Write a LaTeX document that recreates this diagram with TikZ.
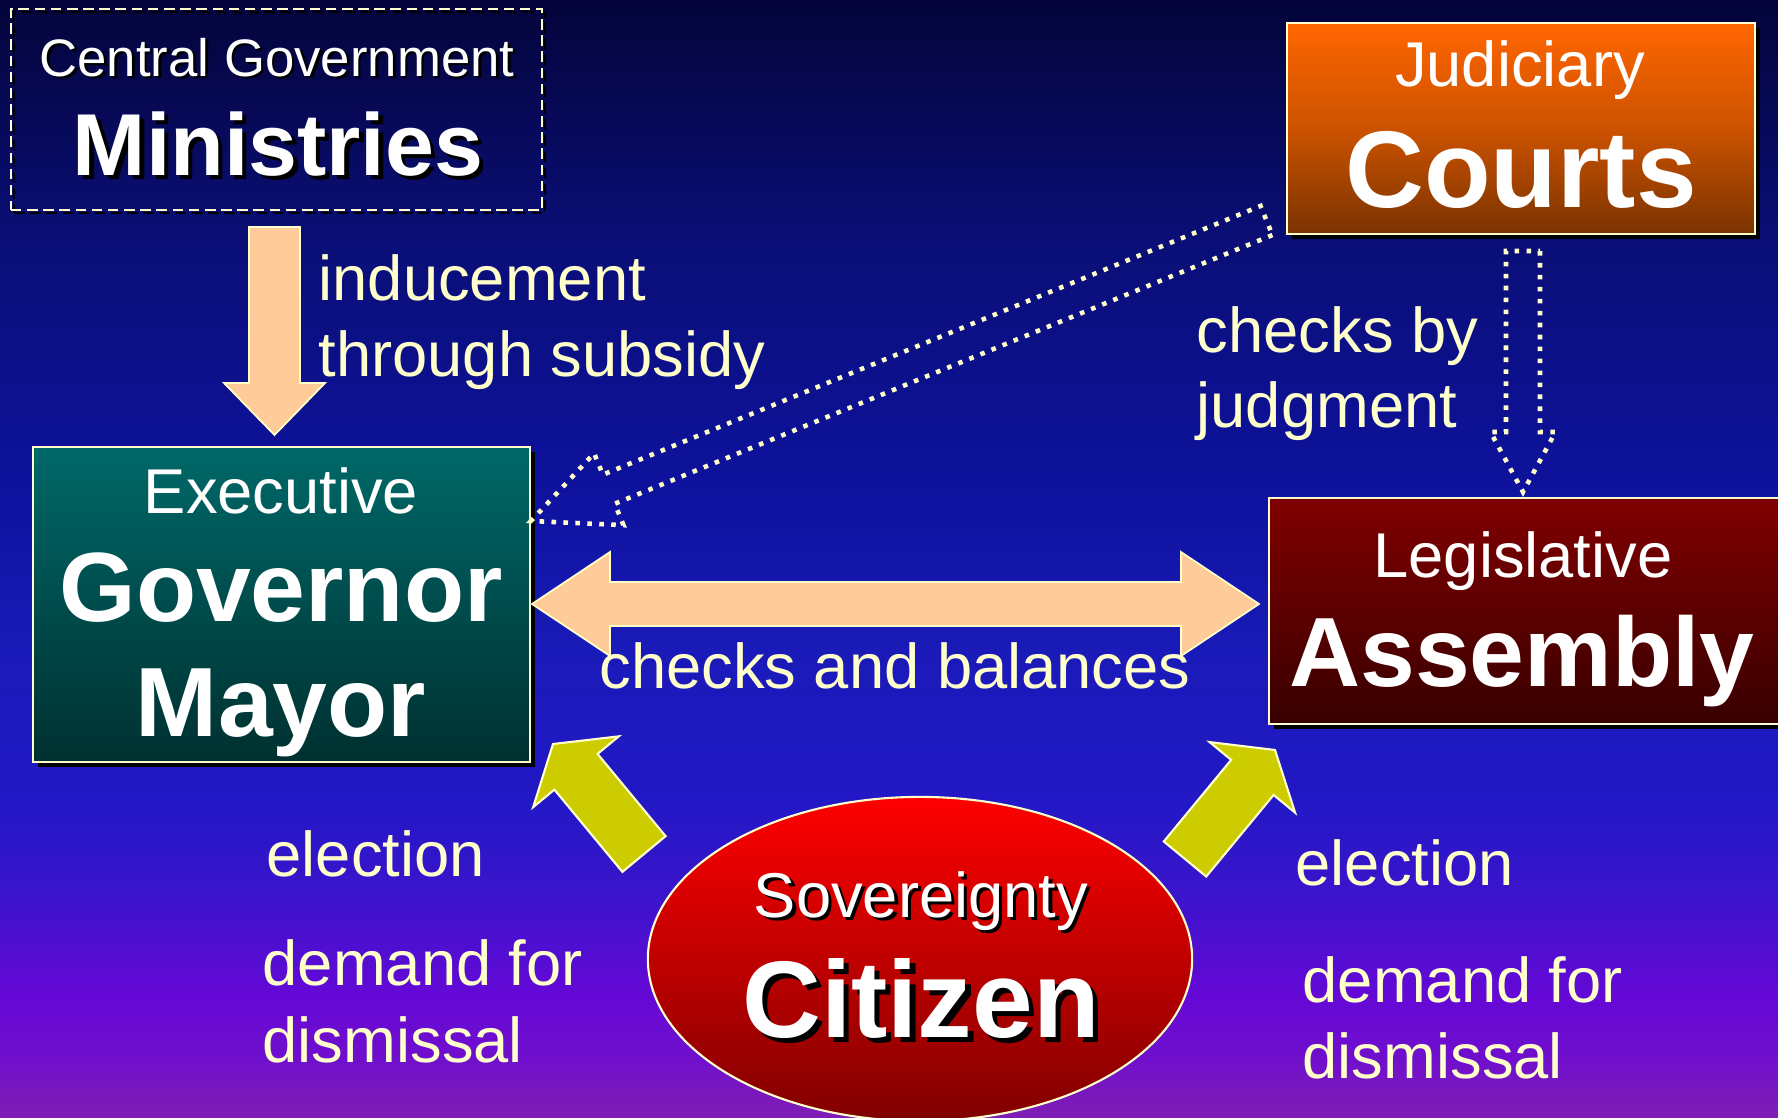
\documentclass[tikz,border=0pt]{standalone}
\usepackage{fontspec}
\setmainfont{Liberation Sans}
\usetikzlibrary{calc,shadows,shapes.geometric}

\definecolor{cream}{HTML}{FFFFCC}
\definecolor{peach}{HTML}{FFCC99}
\definecolor{voteyellow}{HTML}{CCCC00}
\definecolor{bg0}{HTML}{7E1EB4}
\definecolor{bg1}{HTML}{7A18BC}
\definecolor{bg2}{HTML}{7010CC}
\definecolor{bg3}{HTML}{6608D6}
\definecolor{bg4}{HTML}{3C14CC}
\definecolor{bg5}{HTML}{2218C6}
\definecolor{bg6}{HTML}{1A1AB8}
\definecolor{bg7}{HTML}{0E129C}
\definecolor{bg8}{HTML}{0A0E74}
\definecolor{bg9}{HTML}{04043A}

\pgfdeclareverticalshading{slidebg}{100bp}{color(0bp)=(bg0); color(25bp)=(bg0);
  color(26bp)=(bg1); color(27.6bp)=(bg2); color(30.3bp)=(bg3); color(34.8bp)=(bg4);
  color(39.2bp)=(bg5); color(45.9bp)=(bg6); color(53.5bp)=(bg7); color(64.7bp)=(bg8);
  color(75bp)=(bg9); color(100bp)=(bg9)}

% text with a black shadow behind it
\newcommand{\shadowed}[1]{\rlap{\kern0.05em\raisebox{-0.05em}{\color{black}#1}}#1}

% block arrow: [style]{tail}{tip}{half shaft}{half head}{head length}
\newcommand{\blockarrow}[6][]{%
  \coordinate (hb) at ($(#3)!#6!(#2)$);
  \draw[#1] ($(#2)!#4!90:(#3)$) -- ($(hb)!#4!90:(#3)$) -- ($(hb)!#5!90:(#3)$) -- (#3)
    -- ($(hb)!#5!-90:(#3)$) -- ($(hb)!#4!-90:(#3)$) -- ($(#2)!#4!-90:(#3)$) -- cycle;}

% block arrow with a head at both ends
\newcommand{\bothwaysarrow}[6][]{%
  \coordinate (ha) at ($(#2)!#6!(#3)$);
  \coordinate (hb) at ($(#3)!#6!(#2)$);
  \draw[#1] (#2) -- ($(ha)!#5!90:(#3)$) -- ($(ha)!#4!90:(#3)$) -- ($(hb)!#4!-90:(#2)$)
    -- ($(hb)!#5!-90:(#2)$) -- (#3) -- ($(hb)!#5!90:(#2)$) -- ($(hb)!#4!90:(#2)$)
    -- ($(ha)!#4!-90:(#3)$) -- ($(ha)!#5!-90:(#3)$) -- cycle;}

\tikzset{
  panel/.style={rectangle, draw=cream, line width=0.6pt, inner sep=0pt,
    drop shadow={shadow xshift=1.5pt, shadow yshift=-1.5pt, fill=black, opacity=1}},
  small title/.style={anchor=base, text=white, inner sep=0pt, font=\fontsize{18}{22}\selectfont},
  big title/.style={anchor=base, text=white, inner sep=0pt, font=\bfseries\fontsize{28}{34}\selectfont},
  remark/.style={anchor=base west, text=cream, inner sep=0pt, font=\fontsize{18}{22}\selectfont},
  solid arrow/.style={fill=peach, draw=cream, line width=0.5pt},
  vote arrow/.style={fill=voteyellow, draw=cream, line width=0.6pt},
  dotted arrow/.style={draw=cream, line width=1.3pt, dash pattern=on 1.3pt off 2.1pt},
}

\begin{document}
\begin{tikzpicture}[x=0.01cm, y=-0.01cm]
    \useasboundingbox (0,0) rectangle (1778,1118);
    \clip (0,0) rectangle (1778,1118);
    \shade[shading=slidebg] (0,0) rectangle (1778,1118);

    % boxes
    \node[rectangle, draw=cream, line width=0.6pt, dash pattern=on 3pt off 1.6pt,
          minimum width=5.31cm, minimum height=2.01cm,
          preaction={draw=black, line width=0.6pt, dash pattern=on 3pt off 1.6pt,
                     transform canvas={xshift=0.9pt, yshift=-0.9pt}}] (min) at (276.5,109.5) {};
    \node[panel, minimum width=4.68cm, minimum height=2.11cm,
          top color={rgb,255:red,255;green,102;blue,0}, bottom color={rgb,255:red,122;green,51;blue,0},
          middle color={rgb,255:red,204;green,82;blue,0}] (cts) at (1521,128.5) {};
    \node[panel, minimum width=4.97cm, minimum height=3.15cm,
          top color={rgb,255:red,0;green,104;blue,104}, bottom color={rgb,255:red,0;green,48;blue,48}] (exe) at (281.5,604.5) {};
    \node[panel, minimum width=5.31cm, minimum height=2.26cm,
          top color={rgb,255:red,128;green,0;blue,0}, bottom color={rgb,255:red,56;green,0;blue,0}] (asm) at (1534.5,611) {};
    \node[ellipse, draw=cream, line width=0.6pt, inner sep=0pt, minimum width=5.44cm, minimum height=3.24cm,
          top color={rgb,255:red,255;green,0;blue,0}, bottom color={rgb,255:red,128;green,0;blue,0}] (cit) at (920,959) {};

    % box texts
    \node[small title, font=\fontsize{15}{18}\selectfont] (min1) at (277,76) {\shadowed{Central Government}};
    \node[big title, font=\bfseries\fontsize{25}{30}\selectfont] (min2) at (278,175) {\shadowed{Ministries}};
    \node[small title] (cts1) at (1520,87) {Judiciary};
    \node[big title, font=\bfseries\fontsize{31}{36}\selectfont] (cts2) at (1521,207) {Courts};
    \node[small title] (exe1) at (281,513) {Executive};
    \node[big title] (exe2) at (281,621) {Governor};
    \node[big title] (exe3) at (281,736) {Mayor};
    \node[small title] (asm1) at (1523,577) {Legislative};
    \node[big title] (asm2) at (1522,686) {Assembly};
    \node[small title] (cit1) at (921,917) {\shadowed{Sovereignty}};
    \node[big title, font=\bfseries\fontsize{31}{36}\selectfont] (cit2) at (921,1037) {\shadowed{Citizen}};

    % arrow ends
    \coordinate (subA) at (274.5,227);
    \coordinate (subB) at (274.5,435);
    \coordinate (cbA) at (532,604);
    \coordinate (cbB) at (1259,604);
    \coordinate (judA) at (1523,251);
    \coordinate (judB) at (1523,492);
    \coordinate (judC) at (1266.5,220.5);
    \coordinate (judD) at (531,521);
    \coordinate (voteA) at (644,854);
    \coordinate (voteB) at (553,744);
    \coordinate (voteC) at (1185,859);
    \coordinate (voteD) at (1275,750);

    \blockarrow[solid arrow]{subA}{subB}{0.255cm}{0.505cm}{0.52cm}
    \bothwaysarrow[solid arrow]{cbA}{cbB}{0.22cm}{0.52cm}{0.78cm}
    \blockarrow[dotted arrow]{judA}{judB}{0.17cm}{0.325cm}{0.6cm}
    \blockarrow[dotted arrow]{judC}{judD}{0.157cm}{0.388cm}{0.84cm}
    \blockarrow[vote arrow]{voteA}{voteB}{0.28cm}{0.555cm}{0.36cm}
    \blockarrow[vote arrow]{voteC}{voteD}{0.275cm}{0.554cm}{0.355cm}

    % labels
    \node[remark] (ind1) at (318,300) {inducement};
    \node[remark] (ind2) at (318,376) {through subsidy};
    \node[remark] (chk1) at (1196,352) {checks by};
    \node[remark] (chk2) at (1196,427) {judgment};
    \node[remark, anchor=base] (cab) at (895,688) {checks and balances};
    \node[remark] (ele1) at (266,876) {election};
    \node[remark] (dem1) at (262,985) {demand for};
    \node[remark] (dis1) at (262,1062) {dismissal};
    \node[remark] (ele2) at (1295,885) {election};
    \node[remark] (dem2) at (1302,1002) {demand for};
    \node[remark] (dis2) at (1302,1078) {dismissal};
\end{tikzpicture}
\end{document}
